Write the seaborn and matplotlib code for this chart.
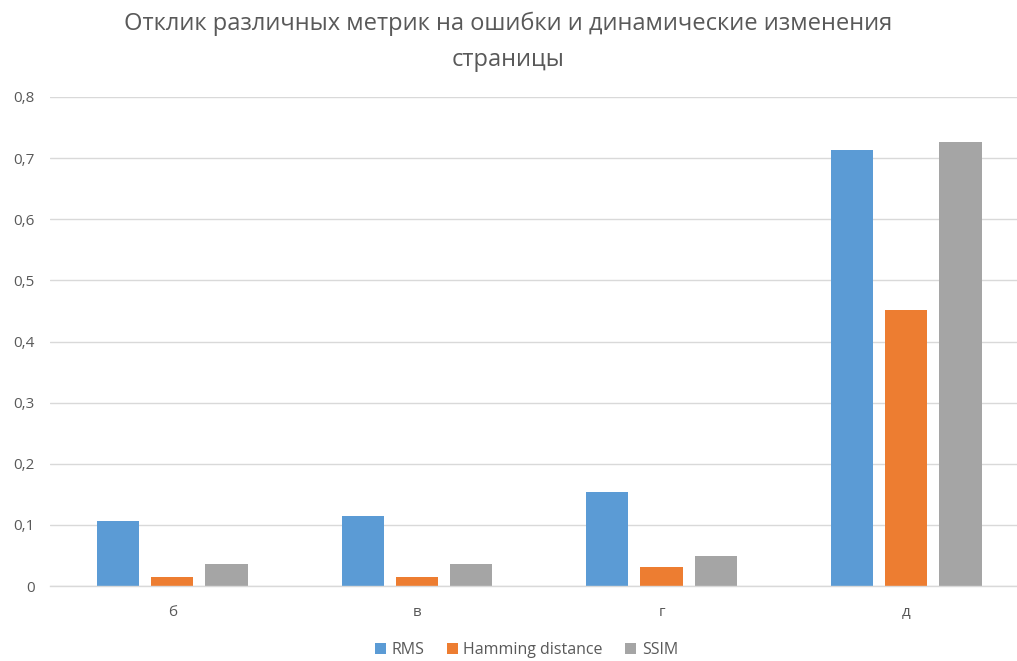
import matplotlib
matplotlib.use("Agg")
import matplotlib.pyplot as plt
from matplotlib.ticker import FuncFormatter, MultipleLocator
import seaborn as sns
import pandas as pd

categories = ["б", "в", "г", "д"]
rms = [0.1065, 0.1147, 0.1545, 0.714]
hamming = [0.0142, 0.014, 0.0305, 0.4514]
ssim = [0.0364, 0.036, 0.0484, 0.726]
series_names = ["RMS", "Hamming distance", "SSIM"]
colors = ["#5B9BD5", "#ED7D31", "#A5A5A5"]

df = pd.DataFrame({
    "cat": categories * 3,
    "metric": [series_names[0]] * 4 + [series_names[1]] * 4 + [series_names[2]] * 4,
    "value": rms + hamming + ssim,
})

sns.set_theme(style="white")
plt.rcParams["font.family"] = ["Open Sans", "DejaVu Sans"]
text_color = "#595959"
grid_color = "#D9D9D9"

W, H = 1017, 661
fig = plt.figure(figsize=(W / 100, H / 100), dpi=100)
# plot area runs past the right edge of the figure
ax = fig.add_axes([50 / W, 1 - 586 / H, 978.5 / W, (586 - 97) / H])

sns.barplot(data=df, x="cat", y="value", hue="metric", order=categories,
            hue_order=series_names, palette=colors, width=0.665, gap=0.22,
            saturation=1, edgecolor="none", ax=ax, legend=True)

ax.set_ylim(0, 0.8)
ax.set_xlim(-0.5, 3.5)
ax.yaxis.set_major_locator(MultipleLocator(0.1))
ax.yaxis.set_major_formatter(FuncFormatter(
    lambda v, _: "0" if abs(v) < 1e-9 else f"{v:.1f}".replace(".", ",")))
ax.grid(axis="y", color=grid_color, linewidth=1)
ax.set_axisbelow(True)
for s in ["top", "right", "left"]:
    ax.spines[s].set_visible(False)
ax.spines["bottom"].set_color(grid_color)
ax.spines["bottom"].set_linewidth(1)
ax.tick_params(axis="y", length=0, labelsize=11, labelcolor=text_color, pad=11)
ax.tick_params(axis="x", length=0, labelsize=11, labelcolor=text_color, pad=14)
ax.set_xlabel("")
ax.set_ylabel("")

leg = ax.legend(loc="center", bbox_to_anchor=(526.5 / W, 1 - 650 / H),
                bbox_transform=fig.transFigure, ncol=3, frameon=False,
                fontsize=11.5, labelcolor=text_color, handlelength=0.7, handleheight=0.7,
                handletextpad=0.35, columnspacing=1.4)

fig.text(0.5, 1 - 24 / H, "Отклик различных метрик на ошибки и динамические изменения",
         ha="center", va="center", fontsize=17, color=text_color)
fig.text(0.5, 1 - 60 / H, "страницы", ha="center", va="center",
         fontsize=17, color=text_color)

fig.savefig("out.png", dpi=100, facecolor="white")
